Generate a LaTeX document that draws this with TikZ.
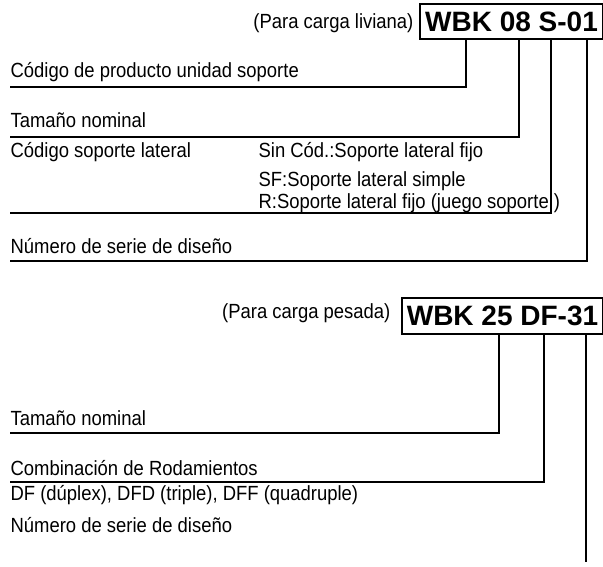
\documentclass[tikz,border=0pt]{standalone}
\usepackage{fontspec}
\setmainfont{Liberation Sans}[FakeStretch=0.9]
\newfontfamily\codefont{Liberation Sans}
\begin{document}
\begin{tikzpicture}[x=1pt, y=-1pt, line width=1.2pt,
  lbl/.style={font=\fontsize{20.5}{24}\selectfont, inner sep=0pt, anchor=base west},
  codebox/.style={draw, line width=2pt, inner sep=0pt, anchor=north west,
    font=\codefont\fontsize{28}{32}\selectfont\bfseries}]
  \useasboundingbox (0,0) rectangle (603,567);
  % light load
  \node[codebox, minimum width=183pt, minimum height=35pt] (code1) at (419,3) {WBK 08 S-01};
  \node[lbl, anchor=base east] (load1) at (414,29) {(Para carga liviana)};
  \node[lbl] (prod1) at (10,78) {Código de producto unidad soporte};
  \node[lbl] (size1) at (10,128) {Tamaño nominal};
  \node[lbl] (side1) at (10,158) {Código soporte lateral};
  \node[lbl] (sideA) at (258,158) {Sin Cód.:Soporte lateral fijo};
  \node[lbl] (sideB) at (258,186) {SF:Soporte lateral simple};
  \node[lbl] (sideC) at (258,208) {R:Soporte lateral fijo (juego soporte )};
  \node[lbl] (ser1) at (10,254) {Número de serie de diseño};
  \coordinate (prodT) at (466,87);  \coordinate (prodE) at (10,87);
  \coordinate (sizeT) at (519,137); \coordinate (sizeE) at (10,137);
  \coordinate (sideT) at (551,213); \coordinate (sideE) at (10,213);
  \coordinate (serT) at (587,261);  \coordinate (serE) at (10,261);
  \draw (code1.south -| prodT) -- (prodT) -- (prodE);
  \draw (code1.south -| sizeT) -- (sizeT) -- (sizeE);
  \draw (code1.south -| sideT) -- (sideT) -- (sideE);
  \draw (code1.south -| serT) -- (serT) -- (serE);
  % heavy load
  \node[codebox, minimum width=201pt, minimum height=36pt] (code2) at (401,297) {WBK 25 DF-31};
  \node[lbl, anchor=base east] (load2) at (391,318) {(Para carga pesada)};
  \node[lbl] (size2) at (10,425) {Tamaño nominal};
  \node[lbl] (comb2) at (10,475) {Combinación de Rodamientos};
  \node[lbl] (kind2) at (10,500) {DF (dúplex), DFD (triple), DFF (quadruple)};
  \node[lbl] (ser2) at (10,532) {Número de serie de diseño};
  \coordinate (size2T) at (499,433); \coordinate (size2E) at (10,433);
  \coordinate (comb2T) at (544,482); \coordinate (comb2E) at (10,482);
  \coordinate (ser2E) at (586,562);
  \draw (code2.south -| size2T) -- (size2T) -- (size2E);
  \draw (code2.south -| comb2T) -- (comb2T) -- (comb2E);
  \draw (code2.south -| ser2E) -- (ser2E);
\end{tikzpicture}
\end{document}
